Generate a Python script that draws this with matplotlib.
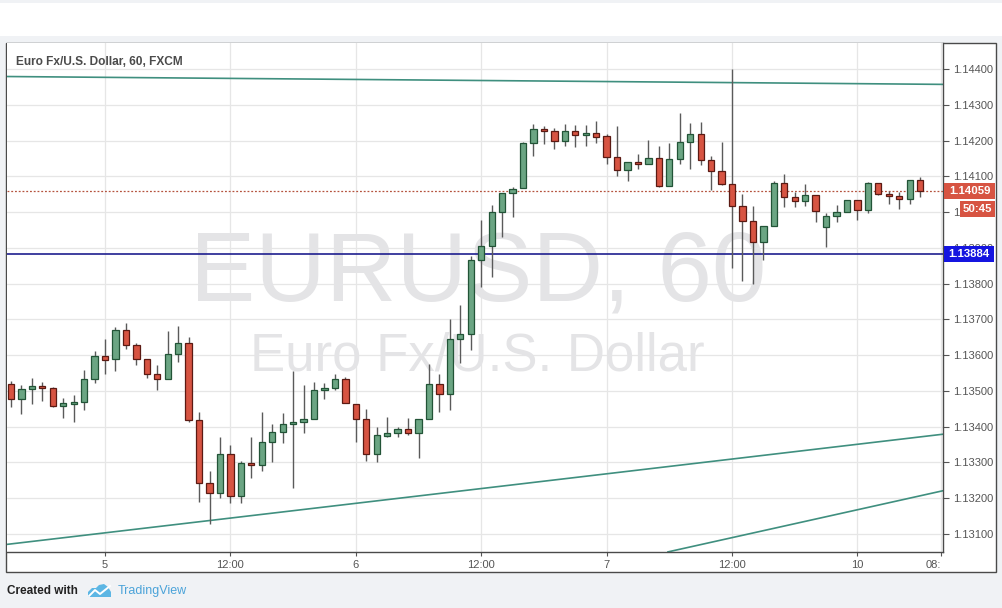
import numpy as np
import matplotlib
matplotlib.use("Agg")
import matplotlib.pyplot as plt
from matplotlib.patches import Rectangle, Polygon

plt.rcParams["font.family"] = ["Liberation Sans", "DejaVu Sans"]

UP = "#6ba583"; UP_EDGE = "#225437"; DN = "#d75442"; DN_EDGE = "#5b1a13"
WICK = "#5a5a5a"; TREND = "#3f8f7f"; GRID = "#e6e6e6"; TXT = "#555555"

# EUR/USD hourly candles
opens = [1.13519, 1.13477, 1.13505, 1.13513, 1.13508, 1.13459, 1.13464, 1.13468, 1.13533, 1.13598,
         1.13589, 1.13670, 1.13628, 1.13589, 1.13547, 1.13533, 1.13603, 1.13633, 1.13418, 1.13242,
         1.13214, 1.13323, 1.13205, 1.13299, 1.13292, 1.13356, 1.13384, 1.13407, 1.13412, 1.13422,
         1.13502, 1.13507, 1.13534, 1.13464, 1.13422, 1.13323, 1.13375, 1.13382, 1.13393, 1.13382,
         1.13421, 1.13519, 1.13491, 1.13644, 1.13658, 1.13866, 1.13904, 1.13999, 1.14053, 1.14066,
         1.14192, 1.14231, 1.14226, 1.14198, 1.14226, 1.14215, 1.14220, 1.14212, 1.14153, 1.14117,
         1.14139, 1.14134, 1.14150, 1.14074, 1.14148, 1.14195, 1.14217, 1.14145, 1.14114, 1.14078,
         1.14016, 1.13976, 1.13915, 1.13960, 1.14080, 1.14041, 1.14030, 1.14047, 1.13957, 1.13988,
         1.13999, 1.14033, 1.14005, 1.14080, 1.14051, 1.14044, 1.14036, 1.14089]
highs = [1.13528, 1.13517, 1.13536, 1.13526, 1.13510, 1.13481, 1.13489, 1.13559, 1.13612, 1.13646,
         1.13680, 1.13691, 1.13633, 1.13589, 1.13573, 1.13668, 1.13682, 1.13651, 1.13440, 1.13276,
         1.13372, 1.13349, 1.13305, 1.13372, 1.13442, 1.13408, 1.13439, 1.13555, 1.13517, 1.13526,
         1.13522, 1.13547, 1.13540, 1.13464, 1.13450, 1.13400, 1.13426, 1.13398, 1.13424, 1.13421,
         1.13575, 1.13547, 1.13701, 1.13740, 1.13877, 1.13978, 1.14020, 1.14053, 1.14071, 1.14197,
         1.14246, 1.14241, 1.14234, 1.14246, 1.14243, 1.14243, 1.14255, 1.14217, 1.14241, 1.14139,
         1.14162, 1.14202, 1.14185, 1.14194, 1.14276, 1.14248, 1.14253, 1.14156, 1.14195, 1.14399,
         1.14050, 1.14018, 1.13960, 1.14088, 1.14107, 1.14057, 1.14079, 1.14047, 1.13997, 1.14020,
         1.14033, 1.14033, 1.14083, 1.14080, 1.14060, 1.14057, 1.14089, 1.14099]
lows = [1.13456, 1.13436, 1.13464, 1.13472, 1.13454, 1.13424, 1.13412, 1.13447, 1.13521, 1.13547,
        1.13557, 1.13616, 1.13572, 1.13535, 1.13502, 1.13533, 1.13581, 1.13412, 1.13189, 1.13127,
        1.13200, 1.13186, 1.13186, 1.13257, 1.13277, 1.13301, 1.13355, 1.13230, 1.13383, 1.13422,
        1.13478, 1.13503, 1.13466, 1.13358, 1.13303, 1.13302, 1.13372, 1.13372, 1.13378, 1.13313,
        1.13421, 1.13442, 1.13447, 1.13577, 1.13614, 1.13790, 1.13818, 1.13930, 1.13985, 1.14066,
        1.14158, 1.14190, 1.14176, 1.14185, 1.14183, 1.14185, 1.14194, 1.14134, 1.14101, 1.14087,
        1.14120, 1.14134, 1.14071, 1.14074, 1.14134, 1.14120, 1.14131, 1.14062, 1.14076, 1.13844,
        1.13807, 1.13799, 1.13866, 1.13960, 1.14015, 1.14013, 1.14018, 1.13971, 1.13903, 1.13973,
        1.13999, 1.13978, 1.13997, 1.14047, 1.14022, 1.14008, 1.14022, 1.14041]
closes = [1.13477, 1.13505, 1.13513, 1.13507, 1.13459, 1.13466, 1.13468, 1.13533, 1.13597, 1.13587,
          1.13670, 1.13628, 1.13589, 1.13547, 1.13533, 1.13603, 1.13633, 1.13419, 1.13242, 1.13214,
          1.13323, 1.13205, 1.13298, 1.13292, 1.13356, 1.13384, 1.13407, 1.13412, 1.13422, 1.13503,
          1.13508, 1.13533, 1.13466, 1.13421, 1.13323, 1.13376, 1.13382, 1.13393, 1.13382, 1.13421,
          1.13519, 1.13491, 1.13644, 1.13658, 1.13866, 1.13904, 1.13999, 1.14053, 1.14065, 1.14192,
          1.14231, 1.14226, 1.14198, 1.14226, 1.14215, 1.14220, 1.14211, 1.14153, 1.14117, 1.14139,
          1.14134, 1.14150, 1.14074, 1.14148, 1.14195, 1.14217, 1.14145, 1.14114, 1.14078, 1.14016,
          1.13976, 1.13915, 1.13960, 1.14080, 1.14041, 1.14030, 1.14047, 1.14002, 1.13988, 1.13999,
          1.14033, 1.14005, 1.14080, 1.14050, 1.14044, 1.14036, 1.14089, 1.14059]

tick_idx = [9, 21, 33, 45, 57, 69, 81, 89]
tick_labels = ["5", "12:00", "6", "12:00", "7", "12:00", "10", "08:"]
price_ticks = [1.131, 1.132, 1.133, 1.134, 1.135, 1.136, 1.137, 1.138, 1.139,
               1.140, 1.141, 1.142, 1.143, 1.144]

# trend lines: (bar index pair, price pair)
trend_lines = [((-0.38, 89.19), (1.14379, 1.14357)),
               ((-0.38, 89.19), (1.13071, 1.13379)),
               ((62.87, 89.19), (1.13050, 1.13221))]
hline_level = 1.13884
countdown = "50:45"

o = np.array(opens); h = np.array(highs); l = np.array(lows); c = np.array(closes)
idx = np.arange(len(o))
up = c >= o

fig = plt.figure(figsize=(10.02, 6.08), dpi=100, facecolor="#f0f2f5")

# page background / panel frame in pixel coords
bg = fig.add_axes([0, 0, 1, 1], zorder=-1)
bg.set_xlim(0, 1002); bg.set_ylim(608, 0); bg.axis("off")
bg.add_patch(Rectangle((0, 3), 1002, 33, fc="white", ec="none"))
bg.add_patch(Rectangle((6, 42.5), 990, 529, fc="white", ec="#4a4a4a", lw=1))
bg.text(7, 591, "Created with", fontsize=8.5, fontweight="bold", color="#222222", va="center")
bg.add_patch(Polygon([(88, 597), (88, 592), (92, 588), (96, 588), (99, 585), (104, 584),
                      (108, 587), (111, 592), (111, 597)], closed=True, fc="#5cb6e4", ec="none"))
bg.plot([89, 95, 100, 110], [596, 590, 594, 586], color="white", lw=1.4)
bg.text(118, 591, "TradingView", fontsize=9, color="#4ba3d9", va="center")

ax = fig.add_axes([7 / 1002, 1 - 552 / 608, 936 / 1002, 509 / 608])
ax.set_xlim(-0.38, 89.19)
ax.set_ylim(1.130497, 1.144727)
ax.set_axisbelow(True)
ax.grid(True, color=GRID, lw=0.9)

ax.text(0.503, 0.495, "EURUSD, 60", transform=ax.transAxes, ha="center", va="baseline",
        fontsize=70.5, color="#e4e4e6", zorder=0.6)
ax.text(0.502, 0.356, "Euro Fx/U.S. Dollar", transform=ax.transAxes, ha="center", va="baseline",
        fontsize=38, color="#e4e4e6", zorder=0.6)

for xs, ys in trend_lines:
    ax.plot(xs, ys, color=TREND, lw=1.2, zorder=1.5)

ax.axhline(hline_level, color="#1f1f8f", lw=1.2, zorder=1.6)
ax.axhline(c[-1], color="#b5533e", lw=0.9, ls=(0, (1.5, 1.5)), zorder=1.6)

ax.vlines(idx, l, h, color=WICK, lw=1, zorder=2)
body_h = np.maximum(np.abs(c - o), 0.00004)
ax.bar(idx, body_h, bottom=np.minimum(o, c), width=0.6,
       color=np.where(up, UP, DN), edgecolor=np.where(up, UP_EDGE, DN_EDGE), lw=0.9, zorder=3)

ax.set_xticks(tick_idx)
ax.set_xticklabels(tick_labels)
ax.get_xticklabels()[-1].set_ha("right")
ax.set_yticks(price_ticks)
ax.set_yticklabels([f"{p:.5f}" for p in price_ticks])
ax.yaxis.tick_right()
ax.tick_params(axis="x", length=3, pad=3, labelsize=8, colors=TXT)
ax.tick_params(axis="y", length=4, pad=3, labelsize=8, colors=TXT)
for s in ("top", "left"):
    ax.spines[s].set_visible(False)
for s in ("right", "bottom"):
    ax.spines[s].set_color("#4a4a4a"); ax.spines[s].set_linewidth(1)

ax.text(0.0093, 0.9568, "Euro Fx/U.S. Dollar, 60, FXCM", transform=ax.transAxes,
        fontsize=8.6, fontweight="bold", color="#4b4b4b", va="baseline", ha="left")

# price-scale label boxes (sizes in pixels -> axes / data units)
ytr = ax.get_yaxis_transform()
ppx = (ax.get_ylim()[1] - ax.get_ylim()[0]) / 509.0
wpx = 1.0 / 936.0


def scale_label(price, text, color, x0_px, x1_px):
    ax.add_patch(Rectangle((1 + x0_px * wpx, price - 8 * ppx), (x1_px - x0_px) * wpx, 16 * ppx,
                           transform=ytr, fc=color, ec="none", clip_on=False, zorder=9))
    ax.text(1 + (x0_px + x1_px) / 2 * wpx, price, text, transform=ytr, ha="center", va="center",
            color="white", fontsize=8.2, fontweight="bold", clip_on=False, zorder=10)


scale_label(c[-1], f"{c[-1]:.5f}", UP if up[-1] else DN, 1, 52)
scale_label(c[-1] - 18 * ppx, countdown, DN, 17, 52)
scale_label(hline_level, f"{hline_level:.5f}", "#1515e0", 1, 51)

fig.savefig("out.png", dpi=100, facecolor=fig.get_facecolor())
